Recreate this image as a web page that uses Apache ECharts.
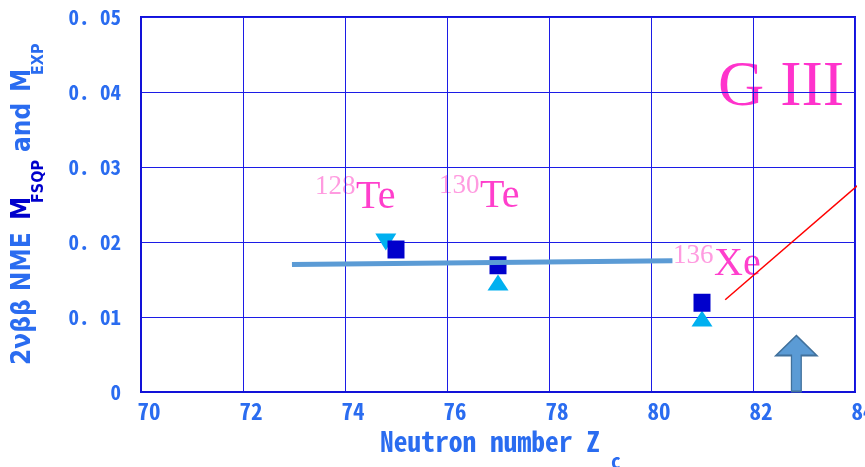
<!DOCTYPE html>
<html>
<head>
<meta charset="utf-8">
<script src="https://cdn.jsdelivr.net/npm/echarts@6/dist/echarts.min.js"></script>
<style>
  html, body { margin: 0; padding: 0; background: #fff; }
  #chart { width: 865px; height: 467px; }
</style>
</head>
<body>
<div id="chart"></div>
<script>
// Axis ticks
const xTicks = [70, 72, 74, 76, 78, 80, 82, 84];
const yTickLabels = ['0', '0. 01', '0. 02', '0. 03', '0. 04', '0. 05'];

// FSQP matrix elements (squares)
const fsqpPoints = [[75, 0.0190], [77, 0.0169], [81, 0.0119]];
// Experimental values (triangles)
const expDown = [[74.8, 0.0200]];
const expUp = [[77, 0.0146], [81, 0.0098]];
// Trend line through the Te / Xe group
const trendLine = [[72.96, 0.0170], [80.42, 0.0175]];
// Red guide line near the shell closure
const redLine = [[81.455, 0.0123], [84.18, 0.0283]];
// Block arrow marking N = 82
const arrowPoint = [[82.85, 0.0038]];

const BLUE = '#2a6cf0';
const DARK = '#0000cc';
const GRIDC = '#1c1ce6';
const MONO = "'Noto Sans Mono CJK SC', 'Noto Sans Mono CJK JP', 'DejaVu Sans Mono', monospace";
const NARROW = "'Liberation Sans Narrow', 'DejaVu Sans Condensed', sans-serif";
const SERIF = "'Liberation Serif', 'DejaVu Serif', serif";

const chart = echarts.init(document.getElementById('chart'));

function txt(text, x, y, size, color, font, weight, extra) {
  return Object.assign({
    type: 'text', x: x, y: y,
    style: { text: text, fontSize: size, fill: color, fontFamily: font,
      fontWeight: weight || 'normal', align: 'left', verticalAlign: 'middle' }
  }, extra || {});
}

chart.setOption({
  animation: false,
  backgroundColor: '#fff',
  grid: { left: 141, right: 10, top: 17, bottom: 75, show: true,
    outerBoundsMode: 'none', containLabel: false,
    borderColor: '#1212d8', borderWidth: 2, backgroundColor: 'transparent' },
  xAxis: {
    type: 'value', min: xTicks[0], max: xTicks[xTicks.length - 1], interval: 2,
    axisLine: { lineStyle: { color: '#1212d8', width: 2 } },
    axisTick: { show: false },
    splitLine: { lineStyle: { color: GRIDC, width: 1 } },
    axisLabel: { color: BLUE, fontSize: 23, fontWeight: 'bold', fontFamily: MONO,
      margin: 8, padding: [0, 0, 0, 16], showMaxLabel: true, showMinLabel: true,
      hideOverlap: false }
  },
  yAxis: {
    type: 'value', min: 0, max: 0.05, interval: 0.01,
    axisLine: { lineStyle: { color: '#1212d8', width: 2 } },
    axisTick: { show: false },
    splitLine: { lineStyle: { color: GRIDC, width: 1 } },
    axisLabel: { color: BLUE, fontSize: 21, fontWeight: 'bold', fontFamily: MONO,
      margin: 20, formatter: v => yTickLabels[Math.round(v / 0.01)] }
  },
  series: [
    { type: 'scatter', data: fsqpPoints, symbol: 'rect', symbolSize: [17, 18],
      itemStyle: { color: DARK, opacity: 1 }, z: 3 },
    { type: 'scatter', data: expDown, symbol: 'triangle', symbolRotate: 180,
      symbolSize: [21, 17], itemStyle: { color: '#00b0f0', opacity: 1 }, z: 2 },
    { type: 'scatter', data: expUp, symbol: 'triangle', symbolSize: [21, 16],
      itemStyle: { color: '#00b0f0', opacity: 1 }, z: 2 },
    { type: 'line', data: trendLine, showSymbol: false, symbol: 'none',
      lineStyle: { color: '#5b9bd5', width: 5, cap: 'butt' }, z: 4 },
    { type: 'line', data: redLine, showSymbol: false, symbol: 'none', clip: false,
      lineStyle: { color: '#ff0000', width: 1.5 }, z: 4 },
    { type: 'scatter', data: arrowPoint,
      symbol: 'path://M21,0 L42,20 L26,20 L26,56 L16,56 L16,20 L0,20 Z',
      symbolSize: [41, 56], symbolKeepAspect: false,
      itemStyle: { color: '#5b9bd5', borderColor: '#41719c', borderWidth: 1.5, opacity: 1 }, z: 3 }
  ],
  graphic: [
    // nucleus labels
    txt('128', 315, 187, 27, '#ff9be0', SERIF),
    txt('Te', 356, 197.5, 40, '#ff3fcc', SERIF),
    txt('130', 439, 186, 27, '#ff9be0', SERIF),
    txt('Te', 480, 196, 40, '#ff3fcc', SERIF),
    txt('136', 673, 256, 27, '#ff9be0', SERIF),
    txt('Xe', 714, 264.5, 40, '#ff3fcc', SERIF),
    txt('G III', 718, 88.5, 64, '#ff33cc', SERIF),
    // x axis title
    txt('Neutron number Z', 380, 442, 27.5, BLUE, MONO, 'bold'),
    txt('c', 611, 461, 20, BLUE, MONO, 'bold'),
    // y axis title, rotated to read bottom-to-top
    {
      type: 'group', x: 0, y: 365, rotation: Math.PI / 2,
      children: [
        txt('2\u03bd\u03b2\u03b2 NME', 0, 23.5, 26, BLUE, NARROW, 'bold'),
        txt('M', 145, 23.5, 26, DARK, NARROW, 'bold'),
        txt('FSQP', 162, 39, 16, DARK, NARROW, 'bold'),
        txt('and', 213, 23.5, 26, BLUE, NARROW, 'bold'),
        txt('M', 273, 23.5, 26, BLUE, NARROW, 'bold'),
        txt('EXP', 290, 39, 16, BLUE, NARROW, 'bold')
      ]
    }
  ]
});
</script>
</body>
</html>
